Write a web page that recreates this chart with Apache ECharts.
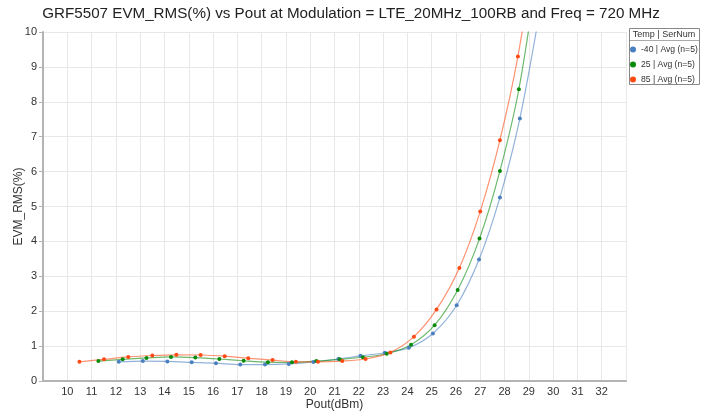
<!DOCTYPE html>
<html><head><meta charset="utf-8">
<script src="https://cdn.jsdelivr.net/npm/echarts@6/dist/echarts.min.js"></script>
<style>html,body{margin:0;padding:0;background:#fff}#c{width:707px;height:412px}</style>
</head><body><div id="c"></div>
<script>
var seriesNames = ['-40 | Avg (n=5)', '25 | Avg (n=5)', '85 | Avg (n=5)'];
var xTicks = [10,11,12,13,14,15,16,17,18,19,20,21,22,23,24,25,26,27,28,29,30,31,32];
var blueX  = [12.12,13.11,14.12,15.12,16.12,17.12,18.14,19.12,20.13,21.16,22.07,23.07,24.06,25.05,26.03,26.95,27.81,28.63,29.45];
var blueY  = [0.55,0.57,0.56,0.535,0.51,0.47,0.47,0.49,0.545,0.63,0.72,0.81,0.95,1.36,2.17,3.48,5.26,7.52,10.6];
var greenX = [11.28,12.28,13.26,14.27,15.27,16.26,17.26,18.26,19.25,20.25,21.22,22.17,23.15,24.15,25.12,26.07,26.97,27.81,28.59,29.38];
var greenY = [0.57,0.62,0.66,0.69,0.67,0.63,0.58,0.54,0.535,0.57,0.62,0.68,0.78,1.04,1.6,2.61,4.08,6.02,8.36,11.9];
var orangeX = [10.5,11.51,12.51,13.5,14.49,15.49,16.48,17.45,18.45,19.41,20.32,21.32,22.28,23.3,24.27,25.2,26.14,27.0,27.81,28.55,29.3];
var orangeY = [0.55,0.62,0.69,0.73,0.75,0.745,0.71,0.65,0.60,0.55,0.55,0.57,0.63,0.82,1.27,2.05,3.24,4.86,6.9,9.30,12.6];
var colors = ['#4a7fc0', '#0a8a0a', '#ff4a14'];

function pairs(xs, ys){ return xs.map(function(x,i){ return [x, ys[i]]; }); }
var dataSets = [pairs(blueX, blueY), pairs(greenX, greenY), pairs(orangeX, orangeY)];

var chart = echarts.init(document.getElementById('c'));
var font = 'Liberation Sans, Arial, sans-serif';
chart.setOption({
  animation: false,
  textStyle: {fontFamily: font},
  title: {
    text: 'GRF5507 EVM_RMS(%) vs Pout at Modulation = LTE_20MHz_100RB and Freq = 720 MHz',
    left: 346, top: 1, textAlign: 'center',
    textStyle: {fontSize: 15.2, fontWeight: 'normal', color: '#222', fontFamily: font}
  },
  grid: {left: 43, right: 81, top: 32, bottom: 31, containLabel: false, outerBoundsMode: 'none'},
  xAxis: {
    type: 'value', min: 9, max: 33, interval: 1,
    name: 'Pout(dBm)', nameLocation: 'middle', nameGap: 18, nameMoveOverlap: false,
    nameTextStyle: {fontSize: 12, color: '#333'},
    axisLine: {show: true, lineStyle: {color: '#b4b4b4', width: 2}},
    axisTick: {show: false},
    axisLabel: {fontSize: 11, color: '#333', margin: 5,
      showMinLabel: false, showMaxLabel: false,
      formatter: function(v){ return xTicks.indexOf(v) >= 0 ? String(v) : ''; }},
    splitLine: {show: true, lineStyle: {color: '#e8e8e8', width: 1}}
  },
  yAxis: {
    type: 'value', min: 0, max: 10, interval: 1,
    name: 'EVM_RMS(%)', nameLocation: 'middle', nameGap: 18, nameRotate: 90, nameMoveOverlap: false,
    nameTextStyle: {fontSize: 12, color: '#333'},
    axisLine: {show: true, lineStyle: {color: '#b4b4b4', width: 2}},
    axisTick: {show: true, length: 4, lineStyle: {color: '#b4b4b4'}},
    axisLabel: {fontSize: 11, color: '#333', margin: 6},
    splitLine: {show: true, lineStyle: {color: '#e8e8e8', width: 1}}
  },
  legend: {
    orient: 'vertical', left: 625, top: 40, itemGap: 6,
    itemWidth: 6, itemHeight: 6, icon: 'circle',
    textStyle: {fontSize: 8.6, color: '#333'},
    data: seriesNames
  },
  graphic: [
    {type: 'rect', shape: {x: 629.5, y: 28.5, width: 70, height: 56},
     style: {fill: 'none', stroke: '#888', lineWidth: 1}, z: 100},
    {type: 'line', shape: {x1: 630, y1: 40.5, x2: 699, y2: 40.5},
     style: {stroke: '#aaa', lineWidth: 1}, z: 100},
    {type: 'text', x: 664, y: 30, z: 100,
     style: {text: 'Temp | SerNum', fontSize: 9, fill: '#333', fontFamily: font, align: 'center'}}
  ],
  series: dataSets.map(function(d, i){
    return {
      name: seriesNames[i], type: 'line', data: d, smooth: 0.3,
      symbol: 'circle', symbolSize: 4, clip: true,
      itemStyle: {color: colors[i]},
      lineStyle: {color: colors[i], width: 1.2, opacity: 0.6}
    };
  })
});
</script></body></html>
